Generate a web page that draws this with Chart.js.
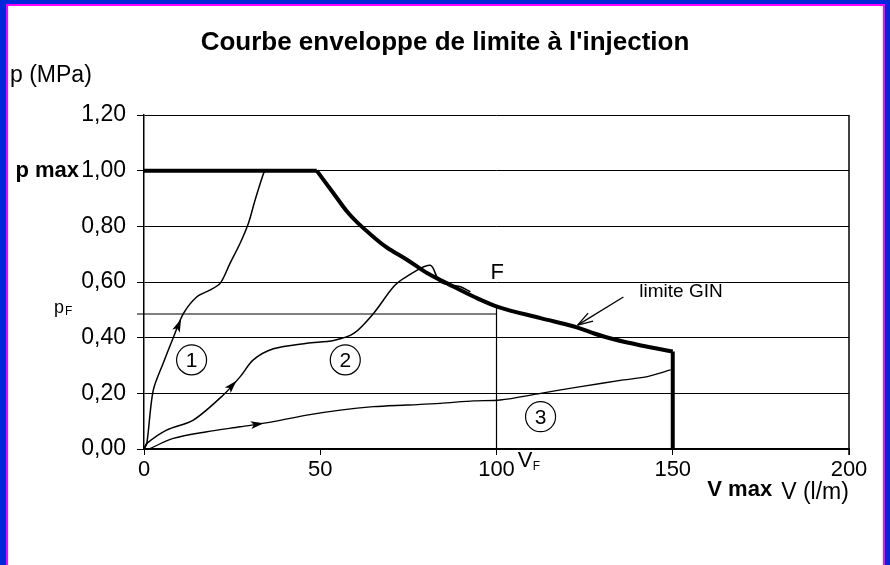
<!DOCTYPE html>
<html>
<head>
<meta charset="utf-8">
<script src="https://cdn.jsdelivr.net/npm/chart.js@4"></script>
<style>
  body { margin: 0; background: #fff; }
  #cadre { position: relative; width: 890px; height: 565px; background: #0028d8; overflow: hidden; }
  #fond { position: absolute; left: 6px; top: 4px; width: 879px; height: 561px;
          background: #fff; border-left: 2px solid #f0f; border-top: 2px solid #f0f; border-right: 2px solid #f0f; box-sizing: border-box; }
  #courbe { position: absolute; left: 0; top: 0; }
</style>
</head>
<body>
<div id="cadre">
  <div id="fond"></div>
  <canvas id="courbe" width="890" height="565"></canvas>
</div>
<script>
// tick labels
const xTicks = [0, 50, 100, 150, 200];
const yTicks = [0, 0.2, 0.4, 0.6, 0.8, 1.0, 1.2];

// courbe enveloppe (limite GIN)
const limiteV = [0, 49, 53.8, 57.6, 60.4, 65.1, 68.9, 74.6, 80.3, 86, 93.6, 100.6, 112.5, 122, 127, 133, 141, 150, 150];
const limiteP = [1.0, 1.0, 0.918, 0.853, 0.815, 0.762, 0.724, 0.68, 0.632, 0.595, 0.547, 0.51, 0.47, 0.44, 0.418, 0.395, 0.372, 0.35, 0];

// injection 1
const courbe1V = [0, 0.8, 2.6, 5.5, 8.3, 11.2, 15, 18.5, 21.6, 24.4, 27.3, 29.6, 31.5, 33.9, 34.4];
const courbe1P = [0, 0.02, 0.21, 0.31, 0.40, 0.487, 0.547, 0.57, 0.595, 0.667, 0.74, 0.81, 0.894, 0.99, 1.0];

// injection 2
const courbe2V = [0, 0.8, 6.4, 14, 22.5, 27.3, 31, 36.7, 46.2, 53.8, 59.5, 65.1, 70.8, 74.6, 81.2, 84, 89.8, 92.6];
const courbe2P = [0, 0.02, 0.068, 0.104, 0.194, 0.26, 0.32, 0.36, 0.38, 0.39, 0.415, 0.487, 0.583, 0.62, 0.66, 0.60, 0.583, 0.565];

// injection 3
const courbe3V = [1.4, 8.3, 17.8, 27.3, 36.7, 46.2, 55.7, 65.1, 74.6, 84, 93.6, 101, 112.5, 123.9, 136, 142.8, 149.4];
const courbe3P = [0, 0.038, 0.062, 0.08, 0.098, 0.122, 0.14, 0.152, 0.158, 0.164, 0.173, 0.176, 0.2, 0.224, 0.248, 0.26, 0.284];

// point F
const pointF = { v: 100, p: 0.51, pF: 0.485 };

const police = '"Liberation Sans", Arial, sans-serif';

const toXY = (xs, ys) => xs.map((x, i) => ({ x: x, y: ys[i] }));

const ligne = (data, width, tension) => ({
    data: data,
    showLine: true,
    borderColor: '#000',
    borderWidth: width,
    pointRadius: 0,
    tension: tension || 0,
    fill: false
});

// flèches sur les courbes : [dataset, index du point]
const fleches = [[3, 5], [4, 5], [5, 4]];

const annotations = {
    id: 'annotations',
    afterDraw(chart) {
        const ctx = chart.ctx;
        const xs = chart.scales.x;
        const ys = chart.scales.y;
        const area = chart.chartArea;
        const px = v => xs.getPixelForValue(v);
        const py = p => ys.getPixelForValue(p);

        ctx.save();
        // bord droit du cadre
        ctx.strokeStyle = '#000';
        ctx.lineWidth = 1.5;
        ctx.beginPath();
        ctx.moveTo(area.right, area.top);
        ctx.lineTo(area.right, area.bottom + 6);
        ctx.stroke();

        ctx.fillStyle = '#000';
        ctx.textBaseline = 'middle';

        ctx.font = 'bold 26px ' + police;
        ctx.textAlign = 'center';
        ctx.fillText("Courbe enveloppe de limite à l'injection", 445, 43);

        ctx.font = '23px ' + police;
        ctx.textAlign = 'left';
        ctx.fillText('p (MPa)', 10, 76);

        ctx.font = 'bold 22px ' + police;
        ctx.textAlign = 'right';
        ctx.fillText('p max', 79, py(1.0));

        ctx.textAlign = 'left';
        ctx.font = '18px ' + police;
        ctx.fillText('p', 54, py(pointF.pF) - 6);
        ctx.font = '12px ' + police;
        ctx.fillText('F', 65, py(pointF.pF) - 2);

        ctx.font = '22px ' + police;
        ctx.fillText('F', px(pointF.v) - 6, py(pointF.p) - 34);

        ctx.font = '19px ' + police;
        ctx.fillText('limite GIN', px(140.5), py(0.566));

        ctx.font = '22px ' + police;
        ctx.fillText('V', px(106), area.bottom + 12);
        ctx.font = '12px ' + police;
        ctx.fillText('F', px(106) + 15, area.bottom + 18);

        ctx.font = 'bold 22px ' + police;
        ctx.textAlign = 'center';
        ctx.fillText('V max', px(169), area.bottom + 41);
        ctx.font = '23px ' + police;
        ctx.fillText('V (l/m)', 815, area.bottom + 44);

        // numéros cerclés
        [['1', 13.5, 0.32], ['2', 57.1, 0.32], ['3', 112.5, 0.116]].forEach(([t, v, p]) => {
            ctx.beginPath();
            ctx.lineWidth = 1.2;
            ctx.arc(px(v), py(p), 15, 0, Math.PI * 2);
            ctx.stroke();
            ctx.font = '21px ' + police;
            ctx.fillText(t, px(v), py(p) + 1);
        });

        // flèches sur les courbes
        fleches.forEach(([d, i]) => {
            const pts = chart.getDatasetMeta(d).data;
            const a = pts[i - 1], b = pts[i];
            const ang = Math.atan2(b.y - a.y, b.x - a.x);
            const cx = (a.x + b.x) / 2, cy = (a.y + b.y) / 2;
            ctx.save();
            ctx.translate(cx, cy);
            ctx.rotate(ang);
            ctx.beginPath();
            ctx.moveTo(7, 0);
            ctx.lineTo(-6, -4);
            ctx.lineTo(-3, 0);
            ctx.lineTo(-6, 4);
            ctx.closePath();
            ctx.fill();
            ctx.restore();
        });

        // flèche "limite GIN"
        const x0 = px(136), y0 = py(0.546), x1 = px(123), y1 = py(0.445);
        ctx.lineWidth = 1.3;
        ctx.beginPath();
        ctx.moveTo(x0, y0);
        ctx.lineTo(x1, y1);
        ctx.stroke();
        const ang = Math.atan2(y1 - y0, x1 - x0);
        ctx.beginPath();
        ctx.moveTo(x1, y1);
        ctx.lineTo(x1 - 16 * Math.cos(ang - 0.3), y1 - 16 * Math.sin(ang - 0.3));
        ctx.moveTo(x1, y1);
        ctx.lineTo(x1 - 16 * Math.cos(ang + 0.3), y1 - 16 * Math.sin(ang + 0.3));
        ctx.stroke();
        ctx.restore();
    }
};

const pFLigne = ligne([{ x: -2, y: pointF.pF }, { x: pointF.v, y: pointF.pF }], 1.2);
pFLigne.clip = false;

new Chart(document.getElementById('courbe'), {
    type: 'scatter',
    data: {
        datasets: [
            ligne(toXY(limiteV.slice(0, 2), limiteP.slice(0, 2)), 4),
            ligne(toXY(limiteV.slice(1, 18), limiteP.slice(1, 18)), 4, 0.35),
            ligne(toXY(limiteV.slice(17), limiteP.slice(17)), 4),
            ligne(toXY(courbe1V, courbe1P), 1.5, 0.3),
            ligne(toXY(courbe2V, courbe2P), 1.5, 0.3),
            ligne(toXY(courbe3V, courbe3P), 1.3, 0.3),
            pFLigne,
            ligne([{ x: pointF.v, y: 0 }, { x: pointF.v, y: pointF.p }], 1.2)
        ]
    },
    options: {
        responsive: false,
        animation: false,
        layout: { padding: { top: 115, right: 41, left: 0, bottom: 0 } },
        plugins: {
            legend: { display: false },
            tooltip: { enabled: false }
        },
        scales: {
            x: {
                type: 'linear',
                min: 0,
                max: 200,
                afterFit: axis => { axis.height = 116; },
                afterBuildTicks: axis => { axis.ticks = xTicks.map(v => ({ value: v })); },
                border: { color: '#000', width: 1.5 },
                grid: { drawOnChartArea: false, color: '#000', tickLength: 6 },
                ticks: {
                    color: '#000',
                    padding: 2,
                    font: { family: police, size: 22 }
                }
            },
            y: {
                min: 0,
                max: 1.2,
                afterFit: axis => { axis.width = 144; },
                afterBuildTicks: axis => { axis.ticks = yTicks.map(v => ({ value: v })); },
                border: { color: '#000', width: 1.5 },
                grid: { color: '#000', lineWidth: 1, tickLength: 7 },
                ticks: {
                    color: '#000',
                    padding: 11,
                    font: { family: police, size: 23 },
                    callback: value => value.toFixed(2).replace('.', ',')
                }
            }
        }
    },
    plugins: [annotations]
});
</script>
</body>
</html>
